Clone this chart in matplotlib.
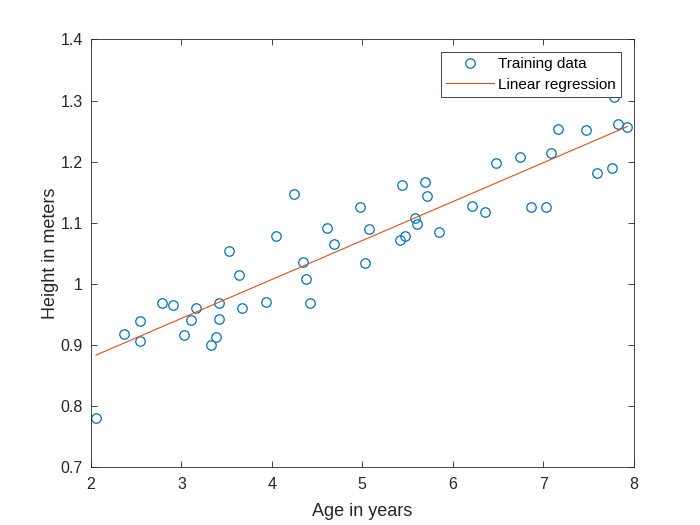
import numpy as np
import matplotlib
matplotlib.use("Agg")
import matplotlib.pyplot as plt

plt.rcParams['font.family'] = ['Liberation Sans', 'DejaVu Sans']

# training data
age = [2.055, 2.365, 2.54, 2.54, 2.79, 2.91, 3.03, 3.11, 3.16, 3.33,
       3.38, 3.42, 3.42, 3.53, 3.64, 3.67, 3.93, 4.05, 4.25, 4.35,
       4.38, 4.42, 4.61, 4.69, 4.98, 5.07, 5.03, 5.44, 5.69, 5.72,
       5.58, 5.61, 5.47, 5.42, 5.85, 6.21, 6.36, 6.48, 6.74, 6.87,
       7.03, 7.09, 7.16, 7.48, 7.60, 7.76, 7.78, 7.83, 7.93]
height = [0.780, 0.918, 0.907, 0.940, 0.968, 0.966, 0.916, 0.941, 0.961, 0.900,
          0.913, 0.943, 0.968, 1.054, 1.015, 0.961, 0.970, 1.078, 1.147, 1.035,
          1.008, 0.968, 1.091, 1.065, 1.125, 1.089, 1.034, 1.162, 1.166, 1.143,
          1.108, 1.098, 1.079, 1.072, 1.085, 1.127, 1.118, 1.198, 1.208, 1.126,
          1.125, 1.214, 1.254, 1.251, 1.182, 1.190, 1.305, 1.262, 1.257]

x_ticks = [2, 3, 4, 5, 6, 7, 8]
y_ticks = [0.7, 0.8, 0.9, 1.0, 1.1, 1.2, 1.3, 1.4]
y_labels = ['0.7', '0.8', '0.9', '1', '1.1', '1.2', '1.3', '1.4']

age = np.array(age)
height = np.array(height)
slope, intercept = np.polyfit(age, height, 1)
xs = np.sort(age)

fig = plt.figure(figsize=(7, 5.25), dpi=100)
ax = fig.add_axes([0.13, 0.11, 0.775, 0.815])

ax.plot(age, height, 'o', mfc='none', mec='#0072BD', ms=6.8, mew=0.9, label='Training data')
ax.plot(xs, slope * xs + intercept, '-', color='#D95319', lw=0.8, label='Linear regression')

ax.set_xlim(2, 8)
ax.set_ylim(0.7, 1.4)
ax.set_xticks(x_ticks)
ax.set_yticks(y_ticks)
ax.set_yticklabels(y_labels)
ax.tick_params(direction='in', top=True, right=True, length=4, width=0.6,
               labelsize=11.5, colors='#262626')
ax.tick_params(axis='x', pad=7)
ax.tick_params(axis='y', pad=6)
for s in ax.spines.values():
    s.set_color('#262626')
    s.set_linewidth(0.6)

ax.set_xlabel('Age in years', fontsize=13, color='#262626', labelpad=8)
ax.set_ylabel('Height in meters', fontsize=13, color='#262626', labelpad=1)

leg = ax.legend(loc='upper right', fontsize=11, fancybox=False, framealpha=1,
                edgecolor='#262626', handlelength=3.1, handletextpad=0.3,
                borderaxespad=0.8, borderpad=0.35, labelspacing=0.45)
leg.get_frame().set_linewidth(0.6)

plt.savefig('out.png')
